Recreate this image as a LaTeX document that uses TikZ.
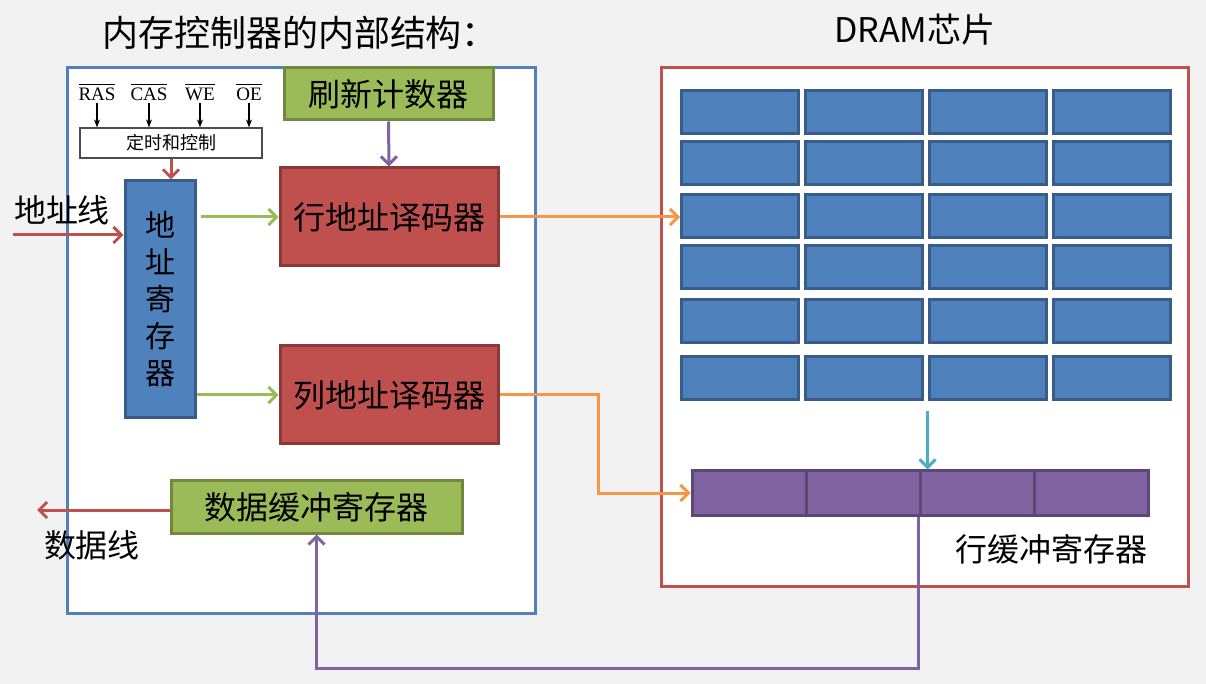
\documentclass[tikz,border=0pt]{standalone}
\usepackage{fontspec}
\newfontfamily\cjk{Noto Sans CJK SC}
\newfontfamily\sigfont{Liberation Serif}
\usetikzlibrary{arrows.meta, positioning}

\definecolor{bggray}{HTML}{F2F2F2}
\definecolor{frameblue}{HTML}{4F81BD}
\definecolor{framered}{HTML}{C0504D}
\definecolor{boxgreen}{HTML}{9BBB59}
\definecolor{boxgreendark}{HTML}{71893F}
\definecolor{boxred}{HTML}{C0504D}
\definecolor{boxreddark}{HTML}{8C3836}
\definecolor{cellblue}{HTML}{4F81BD}
\definecolor{cellbluedark}{HTML}{385D8A}
\definecolor{bufpurple}{HTML}{8064A2}
\definecolor{bufpurpledark}{HTML}{5C4776}
\definecolor{arroworange}{HTML}{F79646}
\definecolor{arrowcyan}{HTML}{4BACC6}
\definecolor{arrowgreen}{HTML}{9BBB59}

\begin{document}
\begin{tikzpicture}[x=0.5pt, y=-0.5pt]
	\tikzset {>={Straight Barb[length=4pt, width=8pt]},
		conn/.style={->, line width=1.5pt},
		box/.style={draw, line width=1.5pt, inner sep=0pt, font=\cjk\fontsize{16}{19}\selectfont},
		greenbox/.style={box, fill=boxgreen, draw=boxgreendark, minimum height=26pt},
		redbox/.style={box, fill=boxred, draw=boxreddark, minimum width=109pt, minimum height=49pt},
		cell/.style={box, fill=cellblue, draw=cellbluedark, minimum width=58.5pt, minimum height=21.5pt},
		bufcell/.style={box, fill=bufpurple, draw=bufpurpledark, minimum width=57pt, minimum height=22pt},
		frame/.style={draw, fill=white, line width=1.5pt, inner sep=0pt},
		label/.style={font=\cjk\fontsize{16}{19}\selectfont, inner sep=0pt},
		signal/.style={font=\sigfont\fontsize{9.5}{10}\selectfont, inner sep=1pt},
		sigarrow/.style={-{Stealth[length=4pt, width=3pt]}, line width=0.6pt, black} }

	% background and the two frames
	\fill[bggray] (0,0) rectangle (1206,684);
	\node[frame, draw=frameblue, minimum width=234pt, minimum height=272.5pt] (ctrl) at (301,340.5) {};
	\node[frame, draw=framered, minimum width=263.5pt, minimum height=259pt] (dram) at (924.5,327) {};

	\node[font=\cjk\fontsize{18}{20}\selectfont] (ctrltitle) at (300,33) {内存控制器的内部结构：};
	\node[font=\cjk\fontsize{17}{20}\selectfont] (dramtitle) at (915,30) {DRAM芯片};

	% memory controller
	\node[greenbox, minimum width=104.5pt] (refresh) at (388.5,94) {刷新计数器};
	\node[draw=black!70, fill=white, line width=0.6pt, minimum width=91pt, minimum height=15pt, inner sep=0pt,
		font=\cjk\fontsize{9}{10}\selectfont] (timing) at (171,143) {定时和控制};
	\node[signal] (ras) at (97,92) {$\overline{\hbox{RAS}}$};
	\node[signal] (cas) at (149,92) {$\overline{\hbox{CAS}}$};
	\node[signal] (we) at (200,92) {$\overline{\hbox{WE}}$};
	\node[signal] (oe) at (249,92) {$\overline{\hbox{OE}}$};

	\node[box, fill=cellblue, draw=cellbluedark, minimum width=35pt, minimum height=118.5pt, align=center,
		font=\cjk\fontsize{15}{18.5}\selectfont] (areg) at (160,299.5) {地\\址\\寄\\存\\器};
	\node[redbox] (rowdec) at (389,217) {行地址译码器};
	\node[redbox] (coldec) at (389,395) {列地址译码器};
	\node[greenbox, minimum width=145.5pt] (databuf) at (316.5,507) {数据缓冲寄存器};

	\node[label] (addrlabel) at (62,210) {地址线};
	\node[label] (datalabel) at (92,545) {数据线};
	\coordinate (addrin) at (13,235);
	\coordinate (dataout) at (37,510);

	% DRAM array and row buffer
	\foreach \y [count=\r] in {112,163,216,267,321,378}
		\foreach \x [count=\c] in {740,863.5,987.5,1111.5}
			\node[cell] (cell-\r-\c) at (\x,\y) {};
	\foreach \x [count=\c] in {749,863,977,1091}
		\node[bufcell] (buf-\c) at (\x,493) {};
	\node[label] (buflabel) at (1051,549) {行缓冲寄存器};

	% connectors
	\foreach \s in {ras,cas,we,oe}
		\draw[sigarrow] (\s.south) -- (\s.south |- timing.north);
	\draw[conn, framered] (timing.south) -- (timing.south |- areg.north);
	\draw[conn, framered] (addrin) -- (addrin -| areg.west);
	\draw[conn, framered] (databuf.west |- dataout) -- (dataout);
	\draw[conn, bufpurple] (refresh.south) -- (rowdec.north);
	\draw[conn, arrowgreen] ([xshift=2pt]areg.east |- rowdec.west) -- (rowdec.west);
	\draw[conn, arrowgreen] (areg.east |- coldec.west) -- (coldec.west);
	\draw[conn, arroworange] (rowdec.east) -- (rowdec.east -| cell-3-1.west);
	\draw[conn, arroworange] (coldec.east) -- ++(99,0) |- (buf-1.west);
	\draw[conn, arrowcyan] ([yshift=-5pt]cell-6-3.south west) -- (cell-6-3.south west |- buf-3.north);
	\draw[conn, bufpurple] (buf-3.south west) -- ++(0,152) -| (databuf.south);
\end{tikzpicture}
\end{document}
